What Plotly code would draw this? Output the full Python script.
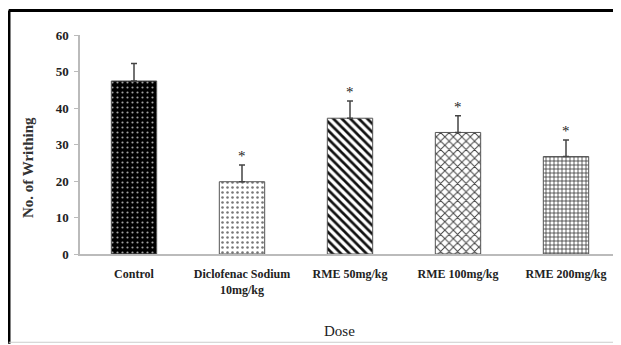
import plotly.graph_objects as go

categories = ["Control", "Diclofenac Sodium<br>10mg/kg", "RME 50mg/kg", "RME 100mg/kg", "RME 200mg/kg"]
means = [47.4, 19.8, 37.2, 33.3, 26.7]
errors = [4.8, 4.6, 4.7, 4.6, 4.5]
marks = ["", "*", "*", "*", "*"]
y_ticks = [0, 10, 20, 30, 40, 50, 60]

pat_shape = [".", ".", "\\", "x", "+"]
pat_fg = ["#a0a0a0", "#777777", "#111111", "#444444", "#333333"]
pat_bg = ["#000000", "#ffffff", "#ffffff", "#ffffff", "#ffffff"]
pat_size = [5, 5, 6, 6, 4]
pat_sol = [0.15, 0.2, 0.45, 0.3, 0.35]

serif = "Liberation Serif, Times New Roman, serif"

fig = go.Figure()
for i, c in enumerate(categories):
    fig.add_trace(go.Bar(
        x=[c], y=[means[i]],
        error_y=dict(type="data", array=[errors[i]], symmetric=False, arrayminus=[0],
                     color="#444444", thickness=1.5, width=3),
        marker=dict(color=pat_bg[i], line=dict(color="#555555", width=1),
                    pattern=dict(shape=pat_shape[i], fgcolor=pat_fg[i], bgcolor=pat_bg[i],
                                 size=pat_size[i], solidity=pat_sol[i], fillmode="replace")),
        width=0.42,
    ))

for c, m, e, s in zip(categories, means, errors, marks):
    if s:
        fig.add_annotation(x=c, y=m + e, text=s, showarrow=False, yshift=9,
                           font=dict(family=serif, size=15, color="#222222"))

fig.add_annotation(xref="paper", yref="paper", x=-0.096, y=0.393, xanchor="center", yanchor="middle",
                   text="<b>No. of Writhing</b>", textangle=-90, showarrow=False,
                   font=dict(family=serif, size=15, color="#333333"))
fig.add_annotation(xref="paper", yref="paper", x=0.48, y=-0.352, xanchor="center", yanchor="middle",
                   text="Dose", showarrow=False, font=dict(family=serif, size=15, color="#222222"))

# outer border
fig.add_shape(type="line", xref="paper", yref="paper", x0=-0.132, x1=1.02, y0=1.112, y1=1.112,
              line=dict(color="#000000", width=3))
fig.add_shape(type="line", xref="paper", yref="paper", x0=-0.1315, x1=-0.1315, y0=-0.41, y1=1.112,
              line=dict(color="#000000", width=3))
fig.add_shape(type="line", xref="paper", yref="paper", x0=-0.132, x1=1.02, y0=-0.403, y1=-0.403,
              line=dict(color="#cccccc", width=1))

fig.update_layout(
    width=613, height=337,
    margin=dict(l=72, r=1, t=27, b=91),
    paper_bgcolor="white", plot_bgcolor="white",
    showlegend=False,
    barmode="overlay",
)
fig.update_xaxes(showline=True, linecolor="#bbbbbb", linewidth=1.5, ticks="",
                 tickfont=dict(family=serif, size=12, color="#222222"), ticklabelstandoff=8,
                 tickprefix="<b>", ticksuffix="</b>", range=[-0.5, 4.5])
fig.update_yaxes(range=[0, 60], tickvals=y_ticks, ticktext=["<b>%d</b>" % v for v in y_ticks],
                 showline=True, linecolor="#bbbbbb", linewidth=1.5, ticklabelstandoff=3,
                 ticks="outside", ticklen=4, tickcolor="#bbbbbb", showgrid=False, zeroline=False,
                 tickfont=dict(family=serif, size=13, color="#222222"))

fig.write_html("out.html")
